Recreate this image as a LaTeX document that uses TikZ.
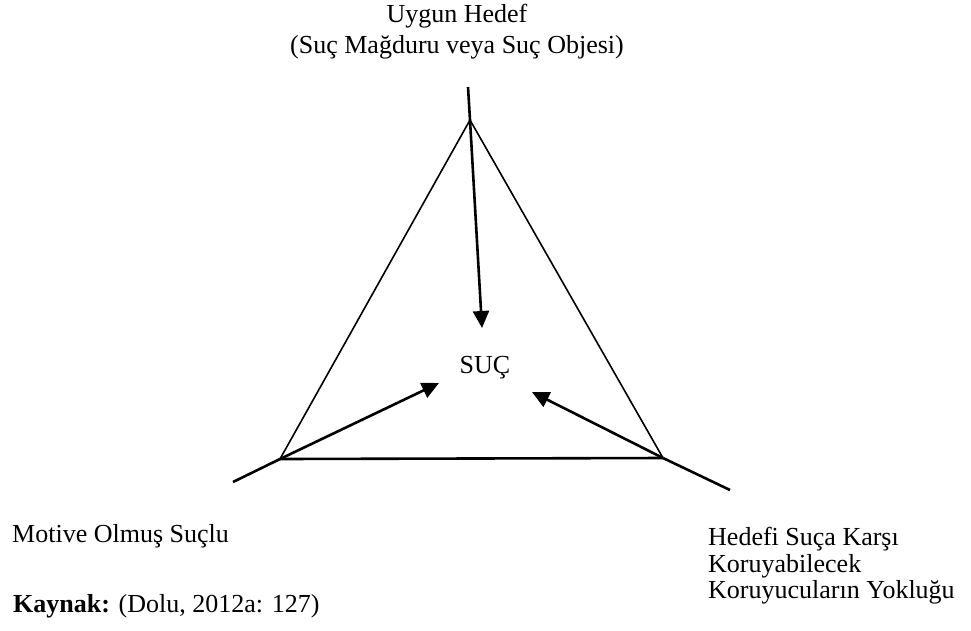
\documentclass[tikz,border=0pt]{standalone}
\usepackage{fontspec}
\setmainfont{Liberation Serif}
\usetikzlibrary{arrows.meta}
\tikzset{
  side/.style={line width=1.6pt, black},
  base/.style={line width=2.6pt, black},
  ray/.style={line width=2.6pt, black},
  arrowray/.style={line width=2.6pt, black, -{Triangle[length=17pt,width=16pt]}},
  lbl/.style={inner sep=0pt, font=\fontsize{26}{27}\selectfont}
}
\begin{document}
\begin{tikzpicture}[x=1pt,y=-1pt]
\useasboundingbox (0,0) rectangle (971,630);
% vertices
\coordinate (T) at (470,120);
\coordinate (L) at (280,459);
\coordinate (R) at (663,458);
% outer ends
\coordinate (Tout) at (468,87);
\coordinate (Lout) at (233,482);
\coordinate (Rout) at (730,490);
% arrow tips
\coordinate (Ttip) at (482,328);
\coordinate (Ltip) at (439,383);
\coordinate (Rtip) at (532,392);
% triangle
\draw[side] (T) -- (L);
\draw[side] (T) -- (R);
\draw[base] (L) -- (R);
% rays and arrows
\draw[ray] (Tout) -- (T);
\draw[arrowray] (T) -- (Ttip);
\draw[ray] (Lout) -- (L);
\draw[arrowray] (L) -- (Ltip);
\draw[ray] (Rout) -- (R);
\draw[arrowray] (R) -- (Rtip);
% labels
\node[lbl, anchor=base] (uh) at (457,22) {Uygun Hedef};
\node[lbl, anchor=base] (uh2) at (457,53) {(Suç Mağduru veya Suç Objesi)};
\node[lbl, anchor=base] (suc) at (485,373) {SUÇ};
\node[lbl, anchor=base west] (mos) at (12,542) {Motive Olmuş Suçlu};
\node[lbl, anchor=base west] (hs1) at (708,545) {Hedefi Suça Karşı};
\node[lbl, anchor=base west] (hs2) at (708,572) {Koruyabilecek};
\node[lbl, anchor=base west] (hs3) at (708,598) {Koruyucuların Yokluğu};
\node[lbl, anchor=base west] (kay) at (13,612) {\textbf{Kaynak:} (Dolu, 2012a: 127)};
\end{tikzpicture}
\end{document}
